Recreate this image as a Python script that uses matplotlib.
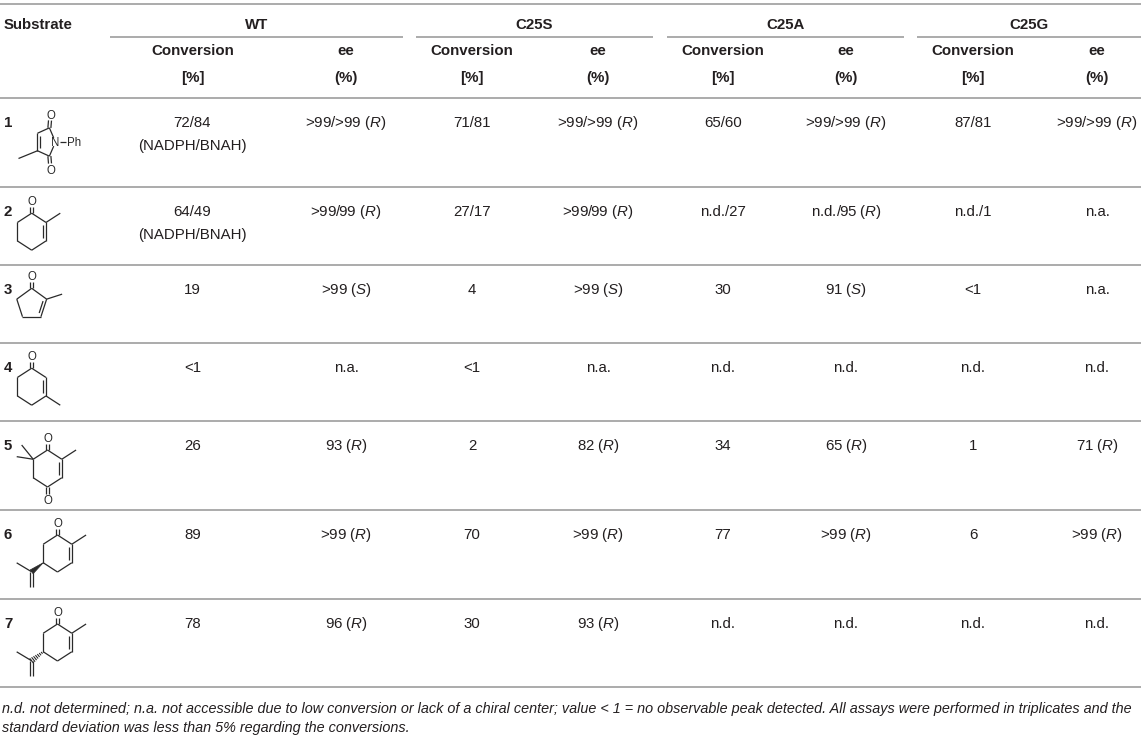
import matplotlib
matplotlib.use('Agg')
import matplotlib.pyplot as plt
from matplotlib import font_manager
from matplotlib.patches import Polygon
import numpy as np

plt.rcParams['font.family'] = ['Liberation Sans', 'DejaVu Sans']
plt.rcParams['mathtext.fontset'] = 'custom'
plt.rcParams['mathtext.rm'] = 'Liberation Sans'
plt.rcParams['mathtext.it'] = 'Liberation Sans:italic'
plt.rcParams['mathtext.bf'] = 'Liberation Sans:bold'

# ---------------- data ----------------
substrates = ['1', '2', '3', '4', '5', '6', '7']
variants = ['WT', 'C25S', 'C25A', 'C25G']
conv_header = ['Conversion', '[%]']
ee_header = ['ee', '(%)']

conv_WT = ['72/84\n(NADPH/BNAH)', '64/49\n(NADPH/BNAH)', '19', '<1', '26', '89', '78']
ee_WT = ['>99/>99 (R)', '>99/99 (R)', '>99 (S)', 'n.a.', '93 (R)', '>99 (R)', '96 (R)']
conv_C25S = ['71/81', '27/17', '4', '<1', '2', '70', '30']
ee_C25S = ['>99/>99 (R)', '>99/99 (R)', '>99 (S)', 'n.a.', '82 (R)', '>99 (R)', '93 (R)']
conv_C25A = ['65/60', 'n.d./27', '30', 'n.d.', '34', '77', 'n.d.']
ee_C25A = ['>99/>99 (R)', 'n.d./95 (R)', '91 (S)', 'n.d.', '65 (R)', '>99 (R)', 'n.d.']
conv_C25G = ['87/81', 'n.d./1', '<1', 'n.d.', '1', '6', 'n.d.']
ee_C25G = ['>99/>99 (R)', 'n.a.', 'n.a.', 'n.d.', '71 (R)', '>99 (R)', 'n.d.']

footnote = ['n.d. not determined; n.a. not accessible due to low conversion or lack of a chiral center; '
            'value < 1 = no observable peak detected. All assays were performed in triplicates and the',
            'standard deviation was less than 5% regarding the conversions.']

# ---------------- layout ----------------
W, H = 1145, 736
fig = plt.figure(figsize=(W / 100, H / 100), dpi=100)
ax = fig.add_axes([0, 0, 1, 1])
ax.set_xlim(0, W)
ax.set_ylim(H, 0)
ax.axis('off')

RULE = '#ababab'
TXT = '#231f20'
FS = 10.8
CAP = 0.716 * FS / 0.72  # cap height in px


def hline(y, x0=0, x1=1141):
    ax.plot([x0, x1], [y, y], color=RULE, lw=1.4, solid_capstyle='butt')


def fmt(s):
    return s.replace('(R)', r'($\mathit{R}$)').replace('(S)', r'($\mathit{S}$)')


def put(x, y, s, bold=False, ha='center', fs=FS, color=TXT):
    ax.text(x, y + CAP / 2 * fs / FS, fmt(s), ha=ha, va='baseline', fontsize=fs,
            fontweight='bold' if bold else 'normal', color=color)


# rules
hline(4)
hline(97.7)
row_bottoms = [186.7, 265, 343, 421, 510, 599, 687]
for yb in row_bottoms:
    hline(yb)
group_spans = [(110, 403), (416, 653), (667, 904), (917, 1141)]
for x0, x1 in group_spans:
    hline(36.7, x0, x1)

# headers
put(4, 24, 'Substrate', bold=True, ha='left')
conv_x = [192.5, 472, 723, 973]
ee_x = [346, 598, 846, 1097]
for i, v in enumerate(variants):
    put((group_spans[i][0] + group_spans[i][1]) / 2, 24, v, bold=True)
    put(conv_x[i], 50, conv_header[0], bold=True)
    put(conv_x[i], 77, conv_header[1], bold=True)
    put(ee_x[i], 50, ee_header[0], bold=True)
    put(ee_x[i], 77, ee_header[1], bold=True)

# body
row_tops = [97.7] + row_bottoms[:-1]
convs = [conv_WT, conv_C25S, conv_C25A, conv_C25G]
ees = [ee_WT, ee_C25S, ee_C25A, ee_C25G]
for r, lab in enumerate(substrates):
    y0 = row_tops[r] + 23.5
    put(4, y0, lab, bold=True, ha='left')
    for i in range(4):
        for k, line in enumerate(convs[i][r].split('\n')):
            put(conv_x[i], y0 + k * 23.5, line)
        for k, line in enumerate(ees[i][r].split('\n')):
            put(ee_x[i], y0 + k * 23.5, line)

# ---------------- structures ----------------
SC = '#2a2a2a'
SLW = 0.9
OFS = 8.3


def seg(p, q, sp=0.0, sq=0.0):
    p = np.asarray(p, float); q = np.asarray(q, float)
    d = q - p; L = np.hypot(*d); u = d / L
    a = p + u * sp; b = q - u * sq
    ax.plot([a[0], b[0]], [a[1], b[1]], color=SC, lw=SLW, solid_capstyle='butt')


def inner(p, q, c, off=3.0, frac=0.16):
    p = np.asarray(p, float); q = np.asarray(q, float); c = np.asarray(c, float)
    d = q - p; u = d / np.hypot(*d)
    n = np.array([-u[1], u[0]])
    if np.dot(c - (p + q) / 2, n) < 0:
        n = -n
    a = p + d * frac + n * off; b = q - d * frac + n * off
    ax.plot([a[0], b[0]], [a[1], b[1]], color=SC, lw=SLW, solid_capstyle='butt')


def dbl(p, q, sp=0.0, sq=0.0, gap=1.5):
    p = np.asarray(p, float); q = np.asarray(q, float)
    d = q - p; u = d / np.hypot(*d)
    n = np.array([-u[1], u[0]])
    for s in (-1, 1):
        seg(p + n * gap * s, q + n * gap * s, sp, sq)


def atom(p, s, ha='center'):
    ax.text(p[0], p[1] + 0.716 * OFS / 0.72 / 2, s, ha=ha, va='baseline', fontsize=OFS, color=SC)


def hexagon(c, sx, sy):
    units = [(0, -1), (0.866, -0.5), (0.866, 0.5), (0, 1), (-0.866, 0.5), (-0.866, -0.5)]
    return [np.array([c[0] + ux * sx, c[1] + uy * sy]) for ux, uy in units]


def ring(pts):
    for i in range(len(pts)):
        seg(pts[i], pts[(i + 1) % len(pts)])


def off(p, dx, dy):
    return np.array([p[0] + dx, p[1] + dy])


SX, SY = 16.5, 18.5

# 1: 3-methyl-N-phenylmaleimide
c1 = np.array([46.1, 142.0]); rx, ry = 0.851 * 12.5, 0.851 * 17.5
ang = np.radians([0, 72, 144, 216, 288])
p1 = [np.array([c1[0] + rx * np.cos(a), c1[1] - ry * np.sin(a)]) for a in ang]
N1 = np.array([55.5, 142.0])
seg(p1[1], N1, 0, 4.5); seg(p1[4], N1, 0, 4.5)
seg(p1[1], p1[2]); seg(p1[2], p1[3]); seg(p1[3], p1[4])
inner(p1[2], p1[3], c1, off=2.8)
O1a = np.array([50.5, 114.5]); O1b = np.array([50.5, 169.5])
dbl(p1[1], O1a, 0, 6); dbl(p1[4], O1b, 0, 6)
atom(O1a, 'O'); atom(O1b, 'O')
seg(p1[3], (18.5, 158.5))
atom(N1, 'N')
seg((60.2, 142.0), (65.5, 142.0))
atom((66.5, 142.0), 'Ph', ha='left')

# 2: 2-methylcyclohex-2-enone
c2 = np.array([31.7, 231.7]); h = hexagon(c2, SX, SY)
ring(h); inner(h[1], h[2], c2)
O2 = off(h[0], 0, -12.5); dbl(h[0], O2, 0, 6); atom(O2, 'O')
seg(h[1], off(h[1], 0.866 * SX, -0.5 * SY))

# 3: 2-methylcyclopent-2-enone
c3 = np.array([31.7, 304.0]); r3 = 15.7
ang3 = np.radians([90, 18, -54, -126, 162])
p3 = [np.array([c3[0] + r3 * np.cos(a), c3[1] - r3 * np.sin(a)]) for a in ang3]
ring(p3); inner(p3[1], p3[2], c3, off=2.8)
O3 = off(p3[0], 0, -12.5); dbl(p3[0], O3, 0, 6); atom(O3, 'O')
seg(p3[1], off(p3[1], 15.5, -5.0))

# 4: 3-methylcyclohex-2-enone
c4 = np.array([31.7, 386.7]); h = hexagon(c4, SX, SY)
ring(h); inner(h[1], h[2], c4)
O4 = off(h[0], 0, -12.5); dbl(h[0], O4, 0, 6); atom(O4, 'O')
seg(h[2], off(h[2], 0.866 * SX, 0.5 * SY))

# 5: 2,6,6-trimethylcyclohex-2-ene-1,4-dione
c5 = np.array([47.5, 468.5]); h = hexagon(c5, SX, SY)
ring(h); inner(h[1], h[2], c5)
O5a = off(h[0], 0, -12.5); dbl(h[0], O5a, 0, 6); atom(O5a, 'O')
O5b = off(h[3], 0, 12.5); dbl(h[3], O5b, 0, 6); atom(O5b, 'O')
seg(h[1], off(h[1], 0.866 * SX, -0.5 * SY))
seg(h[5], off(h[5], -0.70 * SX, -0.77 * SY))
seg(h[5], off(h[5], -1.0 * SX, -0.14 * SY))


def carvone(c, hashed):
    h = hexagon(c, SX, SY)
    ring(h); inner(h[1], h[2], c)
    O = off(h[0], 0, -12.5); dbl(h[0], O, 0, 6); atom(O, 'O')
    seg(h[1], off(h[1], 0.866 * SX, -0.5 * SY))
    ci = off(h[4], -0.70 * SX, 0.49 * SY)
    d = ci - h[4]; u = d / np.hypot(*d); n = np.array([-u[1], u[0]])
    if hashed:
        for t in np.linspace(0.12, 1.0, 7):
            m = h[4] + d * t; w = 0.3 + 2.3 * t
            ax.plot([m[0] - n[0] * w, m[0] + n[0] * w], [m[1] - n[1] * w, m[1] + n[1] * w],
                    color=SC, lw=0.8)
    else:
        ax.add_patch(Polygon([h[4], ci + n * 2.4, ci - n * 2.4], closed=True,
                             facecolor=SC, edgecolor=SC, lw=0.5))
    seg(ci, off(ci, -15.0, -9.0))
    dbl(ci, off(ci, 0, 15.0), 0, 0, gap=1.4)


carvone(np.array([57.5, 553.5]), hashed=False)
carvone(np.array([57.5, 642.5]), hashed=True)

# ---------------- footnote ----------------
names = {f.name for f in font_manager.fontManager.ttflist}
ffam = 'Liberation Sans Narrow' if 'Liberation Sans Narrow' in names else 'Liberation Sans'
fs0 = 10.0
t1 = ax.text(2, 712, footnote[0], ha='left', va='baseline', fontsize=fs0, style='italic',
             family=ffam, color=TXT)
fig.canvas.draw()
w = t1.get_window_extent().width
fsf = fs0 * 1137.0 / w
t1.set_fontsize(fsf)
capf = 0.716 * fsf / 0.72
t1.set_position((2, 708 + capf / 2))
ax.text(2, 727 + capf / 2, footnote[1], ha='left', va='baseline', fontsize=fsf, style='italic',
        family=ffam, color=TXT)

fig.savefig('out.png', dpi=100)
